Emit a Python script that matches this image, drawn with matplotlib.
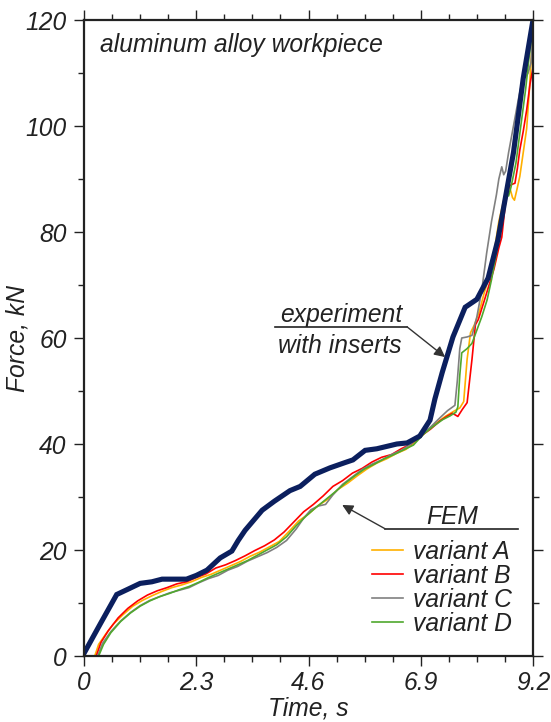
import matplotlib
matplotlib.use("Agg")
import matplotlib.pyplot as plt
from matplotlib.ticker import MultipleLocator

plt.rcParams['font.family'] = ['Liberation Sans', 'DejaVu Sans']
plt.rcParams['font.style'] = 'italic'

FS = 17.7

# experiment with inserts (thick navy line)
t_exp = [0, 0.33, 0.67, 0.9, 1.15, 1.39, 1.6, 2.1, 2.3, 2.52, 2.79, 3.03, 3.16, 3.3,
         3.65, 3.9, 4.22, 4.43, 4.73, 5.04, 5.35, 5.51, 5.76, 6.0, 6.41, 6.62, 6.88,
         7.09, 7.19, 7.34, 7.56, 7.81, 8.05, 8.28, 8.48, 8.8, 9.0, 9.2]
f_exp = [0.5, 6.0, 11.6, 12.6, 13.7, 14.0, 14.5, 14.5, 15.2, 16.2, 18.5, 19.8, 21.8, 23.7,
         27.5, 29.2, 31.2, 32.0, 34.3, 35.5, 36.5, 37.0, 38.8, 39.1, 40.0, 40.2, 41.5,
         44.5, 48.5, 53.5, 60.2, 65.8, 67.3, 71.3, 78.5, 95, 109, 120]

# FEM variant A
t_a = [0.22, 0.3, 0.45, 0.6, 0.8, 1.0, 1.2, 1.4, 1.6, 1.8, 2.0, 2.2, 2.4, 2.6, 2.8, 3.0,
       3.2, 3.4, 3.6, 3.8, 4.0, 4.2, 4.4, 4.6, 4.8, 5.0, 5.2, 5.4, 5.6, 5.8, 6.0, 6.2,
       6.4, 6.6, 6.8, 7.0, 7.2, 7.4, 7.6, 7.7, 7.78, 7.85, 7.92, 8.0, 8.1, 8.2, 8.3,
       8.4, 8.5, 8.6, 8.67, 8.72, 8.78, 8.82, 8.87, 8.93, 9.0, 9.07, 9.12, 9.17, 9.2]
f_a = [0, 2.2, 4.2, 6.0, 7.8, 9.4, 10.5, 11.4, 12.2, 12.9, 13.4, 14.0, 14.8, 15.4, 16.2, 17.0,
       17.8, 18.8, 19.6, 20.6, 21.6, 23.5, 25.5, 26.8, 28.4, 29.6, 31.4, 32.6, 34.0, 35.3, 36.4, 37.2,
       38.2, 39.0, 40.5, 42.2, 43.8, 45.2, 46.3, 46.8, 48.0, 56, 61, 62.5, 65, 68.5, 71.5,
       76, 82, 86, 89.2, 88.5, 86.5, 86, 88, 90.5, 95, 99.5, 106, 113.8, 117]

# FEM variant B
t_b = [0.25, 0.35, 0.5, 0.7, 0.9, 1.1, 1.3, 1.5, 1.7, 1.9, 2.1, 2.3, 2.5, 2.7, 2.9, 3.1,
       3.3, 3.5, 3.7, 3.9, 4.1, 4.3, 4.5, 4.7, 4.9, 5.1, 5.3, 5.5, 5.7, 5.9, 6.1, 6.3,
       6.5, 6.7, 6.9, 7.1, 7.3, 7.45, 7.55, 7.66, 7.75, 7.85, 7.95, 8.02, 8.08, 8.2, 8.3,
       8.4, 8.5, 8.56, 8.63, 8.7, 8.77, 8.83, 8.88, 8.93, 9.0, 9.07, 9.14, 9.2]
f_b = [0, 2.6, 4.8, 7.2, 9.0, 10.4, 11.5, 12.3, 12.9, 13.6, 14.0, 14.8, 15.5, 16.6, 17.2, 18.0,
       18.9, 19.9, 20.8, 21.9, 23.4, 25.3, 27.2, 28.6, 30.2, 32.0, 33.1, 34.5, 35.4, 36.6, 37.5, 38.0,
       39.1, 40.0, 41.5, 42.8, 44.4, 45.3, 45.8, 45.2, 46.5, 47.8, 56, 62.5, 63.5, 67, 70,
       73, 77, 79, 85, 88.5, 89, 89.2, 92, 95.5, 99, 103, 108, 111]

# FEM variant C
t_c = [0.28, 0.38, 0.55, 0.75, 0.95, 1.15, 1.35, 1.55, 1.75, 1.95, 2.15, 2.35, 2.55, 2.75, 2.95, 3.15,
       3.35, 3.55, 3.75, 3.95, 4.15, 4.35, 4.5, 4.65, 4.8, 4.95, 5.1, 5.3, 5.5, 5.7, 5.9, 6.1,
       6.3, 6.5, 6.7, 6.9, 7.1, 7.3, 7.45, 7.6, 7.65, 7.7, 7.74, 7.85, 7.95, 8.05, 8.15,
       8.25, 8.35, 8.45, 8.5, 8.56, 8.6, 8.64, 8.7, 8.8, 8.9, 9.0, 9.05, 9.1, 9.16, 9.2]
f_c = [0, 2.4, 4.6, 6.6, 8.2, 9.5, 10.5, 11.2, 11.9, 12.4, 12.9, 13.8, 14.6, 15.2, 16.2, 16.9,
       17.9, 18.7, 19.5, 20.5, 21.8, 24.0, 26.0, 27.6, 28.3, 28.6, 30.4, 32.4, 33.8, 35.2, 36.2, 37.0,
       38.0, 38.8, 40.0, 41.6, 43.2, 45.0, 46.3, 47.3, 52, 58, 60, 60.2, 60.5, 64, 69,
       76, 82, 87, 90, 92.3, 90.8, 91.5, 95, 100, 105, 109.5, 109.2, 110, 112, 118]

# FEM variant D
t_d = [0.3, 0.4, 0.55, 0.75, 0.95, 1.15, 1.35, 1.55, 1.75, 1.95, 2.15, 2.35, 2.55, 2.75, 2.95, 3.15,
       3.35, 3.55, 3.75, 3.95, 4.15, 4.35, 4.55, 4.75, 4.95, 5.15, 5.35, 5.55, 5.75, 5.95, 6.15, 6.35,
       6.55, 6.75, 6.95, 7.15, 7.35, 7.5, 7.62, 7.66, 7.7, 7.74, 7.85, 7.95, 8.05, 8.15, 8.26,
       8.35, 8.45, 8.55, 8.62, 8.66, 8.7, 8.75, 8.85, 8.95, 9.05, 9.12, 9.2]
f_d = [0, 2.2, 4.4, 6.5, 8.1, 9.4, 10.4, 11.2, 11.8, 12.5, 13.1, 13.9, 14.8, 15.6, 16.4, 17.2,
       18.0, 19.0, 20.0, 21.0, 22.5, 24.6, 26.4, 28.0, 29.5, 31.0, 32.6, 34.0, 35.3, 36.2, 37.2, 38.0,
       38.9, 39.8, 41.8, 43.3, 44.6, 45.3, 46.0, 47, 53, 57.2, 58, 59, 61.5, 64, 67.2,
       71, 76, 82, 86, 87.5, 86.8, 88.5, 93, 100, 107, 113, 119]

fem_series = [(t_a, f_a, 'variant A', '#ffb000'),
              (t_b, f_b, 'variant B', '#ff0000'),
              (t_c, f_c, 'variant C', '#808080'),
              (t_d, f_d, 'variant D', '#4fa82e')]

x_ticks = [0, 2.3, 4.6, 6.9, 9.2]
x_ticklabels = ['0', '2.3', '4.6', '6.9', '9.2']
y_ticks = [0, 20, 40, 60, 80, 100, 120]

fig = plt.figure(figsize=(5.51, 7.22), dpi=100)
ax = fig.add_axes([84/551, 1 - 656/722, 449/551, 636/722])

fem_lines = []
for t, f, name, col in fem_series:
    line, = ax.plot(t, f, color=col, lw=1.2, label=name)
    fem_lines.append(line)

ax.plot(t_exp, f_exp, color='#0b1f5e', lw=3.7, solid_joinstyle='miter')

ax.set_xlim(0, 9.2)
ax.set_ylim(0, 120)
ax.set_xticks(x_ticks)
ax.set_xticklabels(x_ticklabels)
ax.set_yticks(y_ticks)
ax.xaxis.set_minor_locator(MultipleLocator(0.575))
ax.yaxis.set_minor_locator(MultipleLocator(10))
ax.tick_params(which='both', direction='out', top=True, right=True, width=1,
               labelsize=FS, colors='#222222')
ax.tick_params(which='major', length=7)
ax.tick_params(axis='x', which='major', pad=4)
ax.tick_params(axis='y', which='major', pad=5.5)
ax.tick_params(which='minor', length=4.5)
for s in ax.spines.values():
    s.set_linewidth(1.6)
    s.set_color('#222222')

ax.set_xlabel('Time, s', fontsize=FS, labelpad=1, color='#222222')
ax.set_ylabel('Force, kN', fontsize=FS, labelpad=-3, color='#222222')

ax.text(0.036, 0.96, 'aluminum alloy workpiece', transform=ax.transAxes,
        fontsize=FS, va='center', ha='left', color='#222222')

# experiment annotation
ax.text(5.27, 63.0, 'experiment', fontsize=FS, ha='center', va='baseline', color='#222222')
ax.text(5.25, 57.2, 'with inserts', fontsize=FS, ha='center', va='baseline', color='#222222')
ax.plot([3.91, 6.62], [62.1, 62.1], color='#222222', lw=1.2)
ax.annotate('', xy=(7.40, 56.4), xytext=(6.62, 62.1),
            arrowprops=dict(arrowstyle='-|>', color='#333333', lw=1.0,
                            mutation_scale=16, shrinkA=0, shrinkB=0))

# FEM annotation
ax.text(7.54, 24.9, 'FEM', fontsize=FS, ha='center', va='baseline', color='#222222')
ax.plot([6.17, 8.89], [24.0, 24.0], color='#222222', lw=1.2)
ax.annotate('', xy=(5.29, 28.5), xytext=(6.17, 24.0),
            arrowprops=dict(arrowstyle='-|>', color='#333333', lw=1.0,
                            mutation_scale=16, shrinkA=0, shrinkB=0))

leg = ax.legend(handles=fem_lines, loc='upper left', bbox_to_anchor=(0.642, 0.183),
                frameon=False, fontsize=FS, handlelength=1.25, handletextpad=0.4,
                labelspacing=0.0, borderpad=0, borderaxespad=0)
for txt in leg.get_texts():
    txt.set_color('#222222')

fig.savefig('out.png', dpi=100)
